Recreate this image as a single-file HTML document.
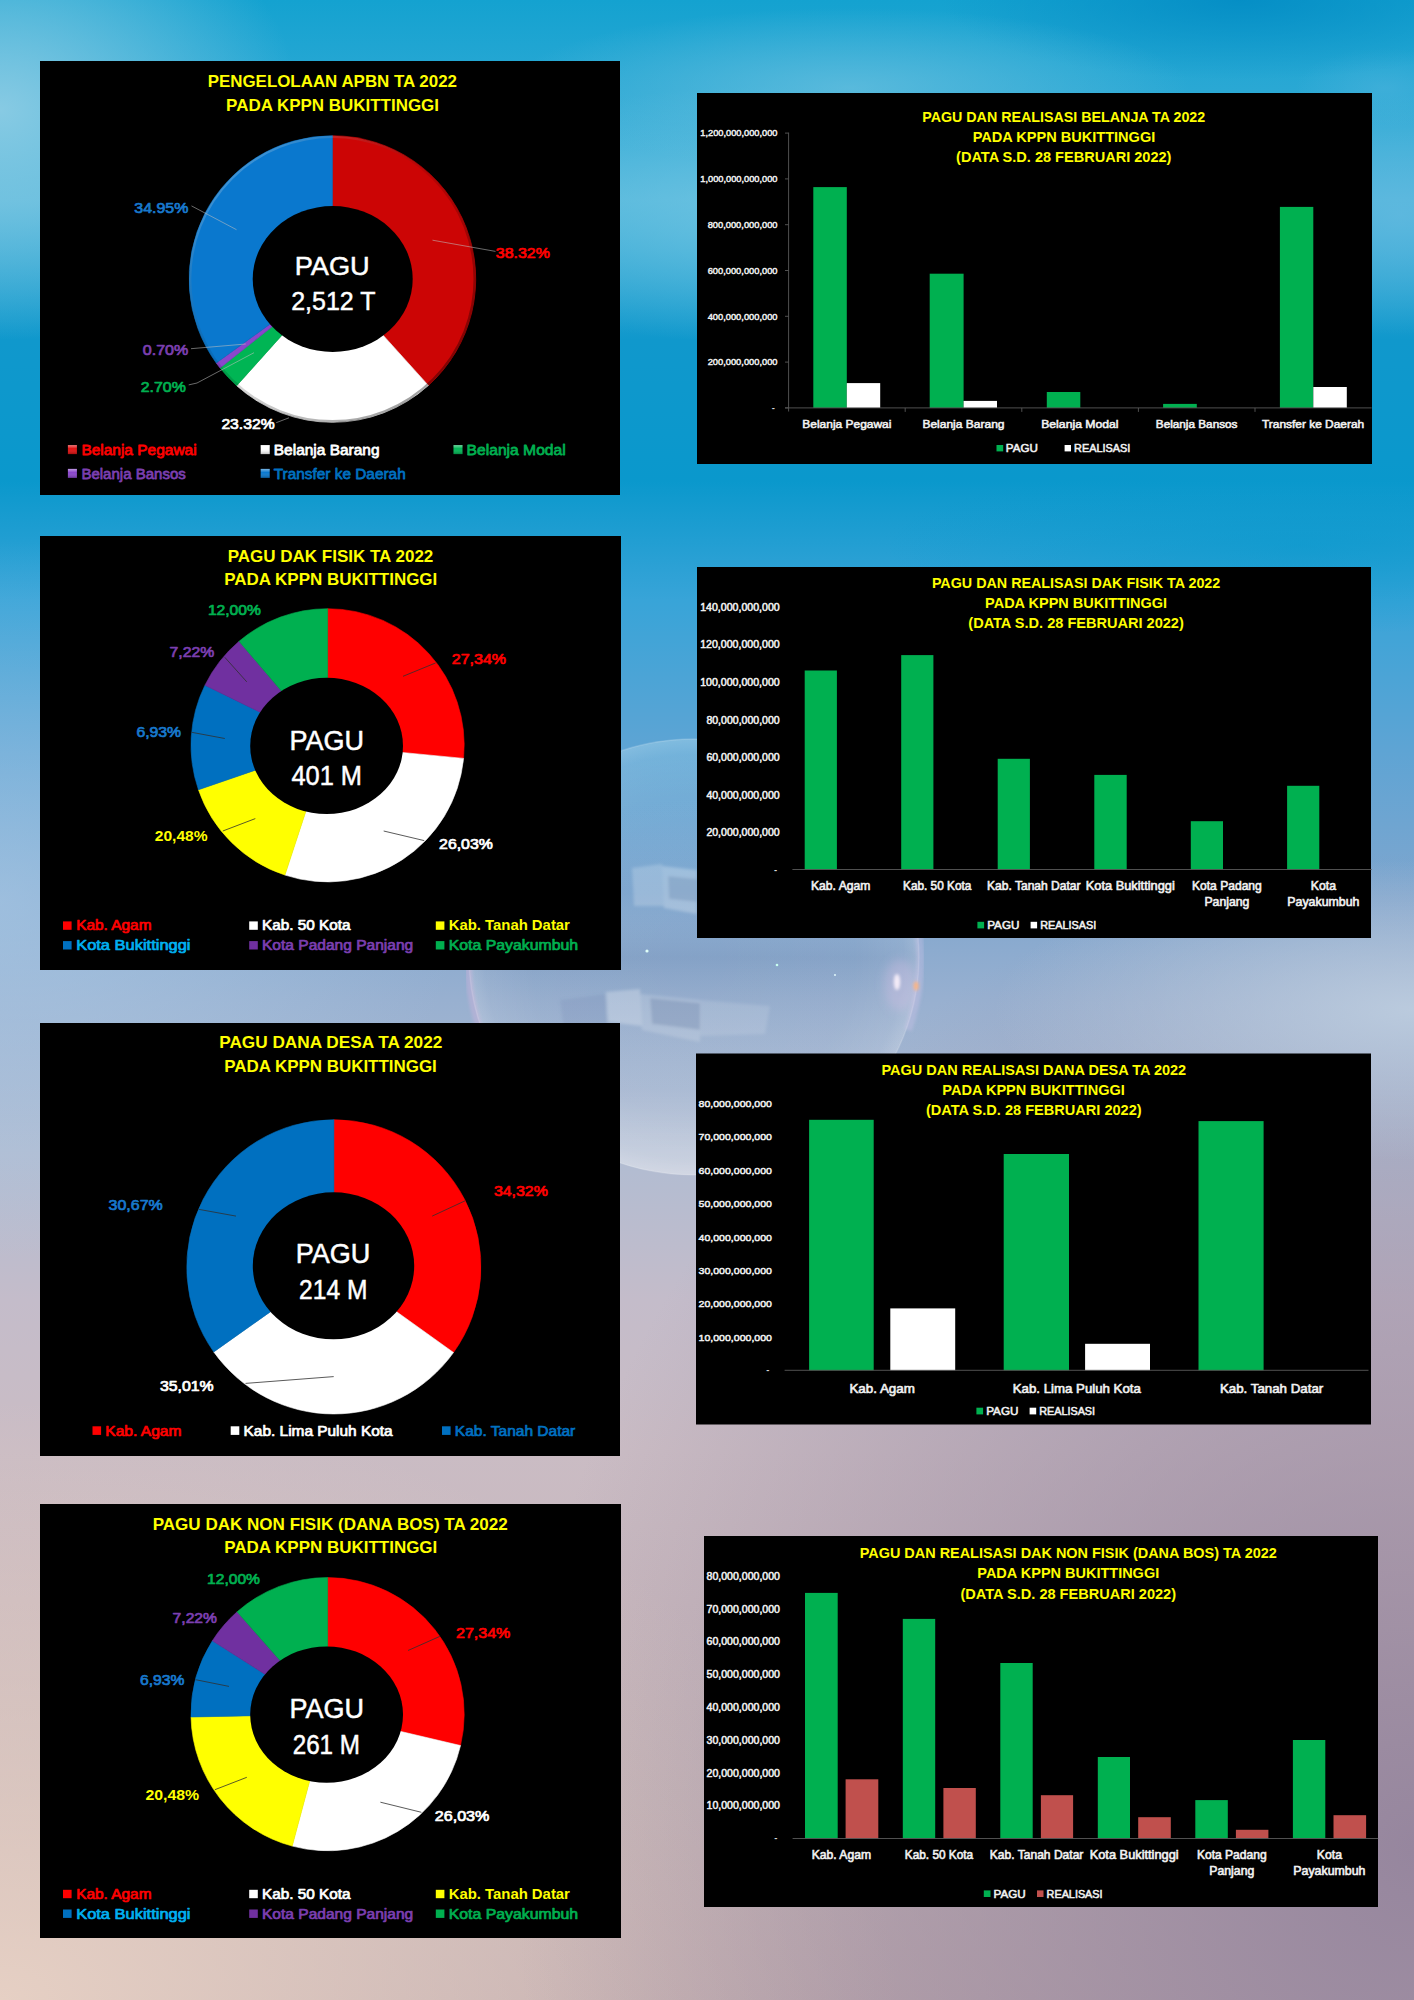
<!DOCTYPE html>
<html lang="id">
<head>
<meta charset="utf-8">
<title>Pengelolaan APBN TA 2022 pada KPPN Bukittinggi</title>
<style>
html,body{margin:0;padding:0;background:#9fb4cf;}
body{width:1414px;height:2000px;overflow:hidden;position:relative;font-family:"Liberation Sans",sans-serif;}
#bg{position:absolute;left:0;top:0;width:1414px;height:2000px;background:
 radial-gradient(ellipse 300px 230px at 0px 110px, rgba(140,204,228,0.95), rgba(140,204,228,0) 100%),
 radial-gradient(ellipse 340px 80px at 850px 88px, rgba(100,190,222,0.80), rgba(100,190,222,0) 100%),
 radial-gradient(ellipse 300px 80px at 1240px 0px, rgba(0,136,194,0.75), rgba(0,136,194,0) 100%),
 radial-gradient(ellipse 90px 40px at 1385px 88px, rgba(90,184,224,0.40), rgba(90,184,224,0) 100%),
 radial-gradient(ellipse 420px 130px at 800px 215px, rgba(120,200,228,0.75), rgba(120,200,228,0) 100%),
 radial-gradient(ellipse 200px 120px at 1400px 215px, rgba(100,186,224,0.75), rgba(100,186,224,0) 100%),
 radial-gradient(ellipse 420px 90px at 1300px 545px, rgba(6,152,204,0.55), rgba(6,152,204,0) 100%),
 radial-gradient(ellipse 460px 360px at 0px 900px, rgba(176,206,232,0.60), rgba(176,206,232,0) 100%),
 radial-gradient(ellipse 420px 150px at 1414px 1010px, rgba(190,206,224,0.9), rgba(190,206,224,0) 100%),
 radial-gradient(ellipse 900px 1000px at 1414px 1850px, rgba(150,134,158,1), rgba(150,134,158,0) 100%),
 radial-gradient(ellipse 900px 600px at 0px 2000px, rgba(230,208,196,1), rgba(230,208,196,0) 100%),
 linear-gradient(180deg, #14A2D0 0px, #2AA8D4 90px, #4CB4DA 200px, #1098CC 340px, #0A98CC 480px, #38A4D8 600px, #5EA4D4 750px, #80A6CE 900px, #98B0D0 1000px, #B0BCD2 1150px, #C4BCCA 1300px, #CABCC4 1450px, #C8B8BE 1600px, #C2B2B6 1800px, #BEAAAE 2000px);
}
svg{position:absolute;left:0;top:0;}
svg text{font-family:"Liberation Sans",sans-serif;}
</style>
</head>
<body>
<div id="bg"></div>
<svg width="1414" height="2000" viewBox="0 0 1414 2000">
<defs>
<radialGradient id="bub" cx="50%" cy="50%" r="50%">
<stop offset="0" stop-color="#fff" stop-opacity="0"/><stop offset="0.72" stop-color="#fff" stop-opacity="0.02"/>
<stop offset="0.93" stop-color="#fff" stop-opacity="0.09"/><stop offset="1" stop-color="#fff" stop-opacity="0.20"/>
</radialGradient>
<linearGradient id="bubv" x1="0" y1="0" x2="0" y2="1">
<stop offset="0" stop-color="#7fd0e8" stop-opacity="0.16"/><stop offset="0.35" stop-color="#fff" stop-opacity="0"/>
<stop offset="0.5" stop-color="#304878" stop-opacity="0.10"/><stop offset="0.8" stop-color="#fff" stop-opacity="0.04"/><stop offset="1" stop-color="#fff" stop-opacity="0.26"/>
</linearGradient>
<filter id="bl2" x="-20%" y="-20%" width="140%" height="140%"><feGaussianBlur stdDeviation="1.6"/></filter>
<filter id="bl5" x="-30%" y="-30%" width="160%" height="160%"><feGaussianBlur stdDeviation="5"/></filter>
</defs>
<g id="bubble">
<ellipse cx="694" cy="957" rx="225" ry="218" fill="url(#bubv)"/>
<ellipse cx="694" cy="957" rx="225" ry="218" fill="url(#bub)" stroke="#fff" stroke-opacity="0.16" stroke-width="1.4"/>
<path d="M480,1030 A225,218 0 0 1 476,905" fill="none" stroke="#e6b4e0" stroke-opacity="0.30" stroke-width="7" filter="url(#bl2)"/>
<path d="M905,880 A225,218 0 0 1 908,1030" fill="none" stroke="#d8c8f0" stroke-opacity="0.30" stroke-width="8" filter="url(#bl2)"/>
<g filter="url(#bl2)">
<polygon points="606,992 640,989 642,1026 608,1022" fill="#fff" fill-opacity="0.26"/>
<polygon points="640,994 700,1000 700,1042 642,1030" fill="#fff" fill-opacity="0.16"/>
<polygon points="650,998 700,1003 700,1030 652,1024" fill="#46608c" fill-opacity="0.22"/>
<polygon points="700,1000 770,1006 765,1034 700,1036" fill="#fff" fill-opacity="0.12"/>
<polygon points="560,1000 606,994 608,1040 566,1048" fill="#5a74a0" fill-opacity="0.14"/>
<polygon points="632,868 662,864 664,906 634,906" fill="#fff" fill-opacity="0.20"/>
<polygon points="662,866 697,870 697,914 664,908" fill="#fff" fill-opacity="0.26"/>
<polygon points="668,876 697,879 697,902 669,899" fill="#4a6896" fill-opacity="0.22"/>
<ellipse cx="897" cy="982" rx="3.2" ry="8" fill="#fff" fill-opacity="0.9"/>
<ellipse cx="916" cy="986" rx="2.6" ry="4.5" fill="#ffb070" fill-opacity="0.9"/>
</g>
<ellipse cx="900" cy="985" rx="16" ry="26" fill="#f0c8f0" fill-opacity="0.25" filter="url(#bl5)"/>
<circle cx="647" cy="951" r="1.6" fill="#dffff8"/><circle cx="777" cy="965" r="1.3" fill="#c8fff0"/><circle cx="835" cy="975" r="0.9" fill="#e8ffff"/>
</g>
<rect x="40.0" y="61.0" width="580.0" height="434.0" fill="#000"/>
<rect x="697.0" y="93.0" width="675.0" height="371.0" fill="#000"/>
<rect x="40.0" y="536.0" width="581.0" height="434.0" fill="#000"/>
<rect x="697.0" y="567.0" width="674.0" height="371.0" fill="#000"/>
<rect x="40.0" y="1023.0" width="580.0" height="433.0" fill="#000"/>
<rect x="696.0" y="1053.5" width="675.0" height="371.0" fill="#000"/>
<rect x="40.0" y="1504.0" width="581.0" height="434.0" fill="#000"/>
<rect x="704.0" y="1536.0" width="674.0" height="371.0" fill="#000"/>
<!-- pie 1 -->
<path d="M332.4,279.0 L332.40,135.70 A143.3,143.3 0 0 1 428.38,385.41 Z" fill="#CC0505" stroke="#CC0505" stroke-width="0.6"/>
<path d="M332.4,279.0 L428.38,385.41 A143.3,143.3 0 0 1 236.70,385.66 Z" fill="#FFFFFF" stroke="#FFFFFF" stroke-width="0.6"/>
<path d="M332.4,279.0 L236.70,385.66 A143.3,143.3 0 0 1 220.07,367.97 Z" fill="#00B554" stroke="#00B554" stroke-width="0.6"/>
<path d="M332.4,279.0 L220.07,367.97 A143.3,143.3 0 0 1 216.26,362.95 Z" fill="#8A46CC" stroke="#8A46CC" stroke-width="0.6"/>
<path d="M332.4,279.0 L216.26,362.95 A143.3,143.3 0 0 1 332.40,135.70 Z" fill="#0A78CE" stroke="#0A78CE" stroke-width="0.6"/>
<ellipse cx="332.7" cy="279.0" rx="80.0" ry="73.0" fill="#000"/>
<defs><linearGradient id="mk" x1="0" y1="0" x2="0" y2="1"><stop offset="0" stop-color="#fff" stop-opacity="0.45"/><stop offset="0.4" stop-color="#fff" stop-opacity="0"/><stop offset="1" stop-color="#000" stop-opacity="0.25"/></linearGradient></defs>
<defs><linearGradient id="bev" x1="0.15" y1="0.1" x2="0.85" y2="0.9"><stop offset="0" stop-color="#fff" stop-opacity="0.22"/><stop offset="0.45" stop-color="#000" stop-opacity="0.10"/><stop offset="1" stop-color="#000" stop-opacity="0.38"/></linearGradient></defs>
<circle cx="332.4" cy="279.0" r="142.2" fill="none" stroke="url(#bev)" stroke-width="2.2"/>
<text x="207.7" y="87.0" font-size="16.34" font-weight="700" fill="#FFFF00" textLength="249.3" lengthAdjust="spacingAndGlyphs">PENGELOLAAN APBN TA 2022</text>
<text x="226.1" y="110.8" font-size="16.34" font-weight="700" fill="#FFFF00" textLength="212.9" lengthAdjust="spacingAndGlyphs">PADA KPPN BUKITTINGGI</text>
<text x="294.7" y="274.5" font-size="26.12" stroke="#FFFFFF" stroke-width="0.47" fill="#FFFFFF" textLength="75.0" lengthAdjust="spacingAndGlyphs">PAGU</text>
<text x="291.2" y="310.2" font-size="26.12" stroke="#FFFFFF" stroke-width="0.47" fill="#FFFFFF" textLength="84.3" lengthAdjust="spacingAndGlyphs">2,512 T</text>
<text x="134.3" y="212.5" font-size="14.80" stroke="#1878CC" stroke-width="0.74" stroke-linejoin="round" fill="#1878CC" textLength="54.0" lengthAdjust="spacingAndGlyphs">34.95%</text>
<text x="495.8" y="257.5" font-size="14.80" stroke="#FF0000" stroke-width="0.74" stroke-linejoin="round" fill="#FF0000" textLength="54.0" lengthAdjust="spacingAndGlyphs">38.32%</text>
<text x="142.8" y="355.0" font-size="14.80" stroke="#7B3FB0" stroke-width="0.74" stroke-linejoin="round" fill="#7B3FB0" textLength="45.5" lengthAdjust="spacingAndGlyphs">0.70%</text>
<text x="140.8" y="391.5" font-size="14.80" stroke="#00B050" stroke-width="0.74" stroke-linejoin="round" fill="#00B050" textLength="45.0" lengthAdjust="spacingAndGlyphs">2.70%</text>
<text x="221.4" y="428.7" font-size="14.80" stroke="#FFFFFF" stroke-width="0.74" stroke-linejoin="round" fill="#FFFFFF" textLength="53.2" lengthAdjust="spacingAndGlyphs">23.32%</text>
<polyline points="191.5,205.9 236.5,229.7" fill="none" stroke="#BFBFBF" stroke-width="0.7" stroke-opacity="0.8"/>
<polyline points="432.5,240.2 495.5,251.4" fill="none" stroke="#BFBFBF" stroke-width="0.7" stroke-opacity="0.8"/>
<polyline points="191.0,348.7 245.8,344.0" fill="none" stroke="#BFBFBF" stroke-width="0.7" stroke-opacity="0.8"/>
<polyline points="188.7,384.9 197.0,383.0 254.0,352.7" fill="none" stroke="#BFBFBF" stroke-width="0.7" stroke-opacity="0.8"/>
<polyline points="276.2,422.7 289.0,417.8" fill="none" stroke="#BFBFBF" stroke-width="0.7" stroke-opacity="0.8"/>
<rect x="67.9" y="445.1" width="9.0" height="9.0" fill="#E01010"/>
<rect x="67.9" y="445.1" width="9.0" height="9.0" fill="url(#mk)"/>
<text x="81.4" y="454.6" font-size="15.36" stroke="#FF0000" stroke-width="0.77" stroke-linejoin="round" fill="#FF0000" textLength="115.2" lengthAdjust="spacingAndGlyphs">Belanja Pegawai</text>
<rect x="260.7" y="445.1" width="9.0" height="9.0" fill="#FFFFFF"/>
<rect x="260.7" y="445.1" width="9.0" height="9.0" fill="url(#mk)"/>
<text x="273.8" y="454.6" font-size="15.36" stroke="#FFFFFF" stroke-width="0.77" stroke-linejoin="round" fill="#FFFFFF" textLength="105.7" lengthAdjust="spacingAndGlyphs">Belanja Barang</text>
<rect x="453.5" y="445.1" width="9.0" height="9.0" fill="#00B554"/>
<rect x="453.5" y="445.1" width="9.0" height="9.0" fill="url(#mk)"/>
<text x="466.6" y="454.6" font-size="15.36" stroke="#00B050" stroke-width="0.77" stroke-linejoin="round" fill="#00B050" textLength="99.1" lengthAdjust="spacingAndGlyphs">Belanja Modal</text>
<rect x="67.9" y="468.9" width="9.0" height="9.0" fill="#8A46CC"/>
<rect x="67.9" y="468.9" width="9.0" height="9.0" fill="url(#mk)"/>
<text x="81.4" y="478.7" font-size="15.36" stroke="#7B3FB0" stroke-width="0.77" stroke-linejoin="round" fill="#7B3FB0" textLength="104.5" lengthAdjust="spacingAndGlyphs">Belanja Bansos</text>
<rect x="260.7" y="468.9" width="9.0" height="9.0" fill="#0A78CE"/>
<rect x="260.7" y="468.9" width="9.0" height="9.0" fill="url(#mk)"/>
<text x="273.8" y="478.7" font-size="15.36" stroke="#0070C0" stroke-width="0.77" stroke-linejoin="round" fill="#0070C0" textLength="131.9" lengthAdjust="spacingAndGlyphs">Transfer ke Daerah</text>
<!-- pie 2 -->
<path d="M327.6,745.3 L327.60,608.70 A136.6,136.6 0 0 1 463.57,758.39 Z" fill="#FF0000" stroke="#FF0000" stroke-width="0.6"/>
<path d="M327.6,745.3 L463.57,758.39 A136.6,136.6 0 0 1 284.94,875.07 Z" fill="#FFFFFF" stroke="#FFFFFF" stroke-width="0.6"/>
<path d="M327.6,745.3 L284.94,875.07 A136.6,136.6 0 0 1 198.44,789.77 Z" fill="#FFFF00" stroke="#FFFF00" stroke-width="0.6"/>
<path d="M327.6,745.3 L198.44,789.77 A136.6,136.6 0 0 1 204.93,685.20 Z" fill="#0070C0" stroke="#0070C0" stroke-width="0.6"/>
<path d="M327.6,745.3 L204.93,685.20 A136.6,136.6 0 0 1 239.07,641.27 Z" fill="#7030A0" stroke="#7030A0" stroke-width="0.6"/>
<path d="M327.6,745.3 L239.07,641.27 A136.6,136.6 0 0 1 327.60,608.70 Z" fill="#00B050" stroke="#00B050" stroke-width="0.6"/>
<ellipse cx="326.6" cy="745.9" rx="76.4" ry="68.2" fill="#000"/>
<text x="227.7" y="561.5" font-size="16.34" font-weight="700" fill="#FFFF00" textLength="205.6" lengthAdjust="spacingAndGlyphs">PAGU DAK FISIK TA 2022</text>
<text x="224.2" y="585.0" font-size="16.34" font-weight="700" fill="#FFFF00" textLength="213.1" lengthAdjust="spacingAndGlyphs">PADA KPPN BUKITTINGGI</text>
<text x="207.9" y="614.9" font-size="14.39" stroke="#00B050" stroke-width="0.72" stroke-linejoin="round" fill="#00B050" textLength="52.9" lengthAdjust="spacingAndGlyphs">12,00%</text>
<text x="169.5" y="657.3" font-size="14.39" stroke="#7B3FB0" stroke-width="0.72" stroke-linejoin="round" fill="#7B3FB0" textLength="44.7" lengthAdjust="spacingAndGlyphs">7,22%</text>
<text x="451.8" y="664.1" font-size="14.39" stroke="#FF0000" stroke-width="0.72" stroke-linejoin="round" fill="#FF0000" textLength="54.3" lengthAdjust="spacingAndGlyphs">27,34%</text>
<text x="136.4" y="736.5" font-size="14.39" stroke="#1878CC" stroke-width="0.72" stroke-linejoin="round" fill="#1878CC" textLength="44.7" lengthAdjust="spacingAndGlyphs">6,93%</text>
<text x="154.8" y="841.2" font-size="14.39" font-weight="700" fill="#FFFF00" textLength="52.8" lengthAdjust="spacingAndGlyphs">20,48%</text>
<text x="439.1" y="849.1" font-size="14.39" stroke="#FFFFFF" stroke-width="0.72" stroke-linejoin="round" fill="#FFFFFF" textLength="53.7" lengthAdjust="spacingAndGlyphs">26,03%</text>
<line x1="403.0" y1="676.3" x2="435.5" y2="663.0" stroke="#303030" stroke-width="0.8"/>
<line x1="224.8" y1="657.3" x2="246.8" y2="681.9" stroke="#303030" stroke-width="0.8"/>
<line x1="191.7" y1="732.3" x2="224.8" y2="738.5" stroke="#303030" stroke-width="0.8"/>
<line x1="222.8" y1="831.0" x2="255.3" y2="818.6" stroke="#303030" stroke-width="0.8"/>
<line x1="383.7" y1="831.0" x2="424.2" y2="840.6" stroke="#303030" stroke-width="0.8"/>
<text x="289.4" y="749.8" font-size="26.96" stroke="#FFFFFF" stroke-width="0.49" fill="#FFFFFF" textLength="74.5" lengthAdjust="spacingAndGlyphs">PAGU</text>
<text x="291.4" y="785.2" font-size="26.96" stroke="#FFFFFF" stroke-width="0.49" fill="#FFFFFF" textLength="70.6" lengthAdjust="spacingAndGlyphs">401 M</text>
<rect x="63.0" y="921.4" width="8.6" height="8.4" fill="#FF0000"/>
<text x="76.2" y="930.4" font-size="14.80" stroke="#FF0000" stroke-width="0.74" stroke-linejoin="round" fill="#FF0000" textLength="75.3" lengthAdjust="spacingAndGlyphs">Kab. Agam</text>
<rect x="249.2" y="921.4" width="8.6" height="8.4" fill="#FFFFFF"/>
<text x="262.0" y="930.4" font-size="14.80" stroke="#FFFFFF" stroke-width="0.74" stroke-linejoin="round" fill="#FFFFFF" textLength="88.5" lengthAdjust="spacingAndGlyphs">Kab. 50 Kota</text>
<rect x="435.8" y="921.4" width="8.6" height="8.4" fill="#FFFF00"/>
<text x="448.7" y="930.4" font-size="14.80" font-weight="700" fill="#FFFF00" textLength="121.2" lengthAdjust="spacingAndGlyphs">Kab. Tanah Datar</text>
<rect x="63.0" y="941.1" width="8.6" height="8.4" fill="#0070C0"/>
<text x="76.2" y="950.1" font-size="14.80" stroke="#00B0F0" stroke-width="0.74" stroke-linejoin="round" fill="#00B0F0" textLength="114.3" lengthAdjust="spacingAndGlyphs">Kota Bukittinggi</text>
<rect x="249.2" y="941.1" width="8.6" height="8.4" fill="#7030A0"/>
<text x="262.0" y="950.1" font-size="14.80" stroke="#7B3FB0" stroke-width="0.74" stroke-linejoin="round" fill="#7B3FB0" textLength="151.2" lengthAdjust="spacingAndGlyphs">Kota Padang Panjang</text>
<rect x="435.8" y="941.1" width="8.6" height="8.4" fill="#00B050"/>
<text x="448.7" y="950.1" font-size="14.80" stroke="#00B050" stroke-width="0.74" stroke-linejoin="round" fill="#00B050" textLength="129.4" lengthAdjust="spacingAndGlyphs">Kota Payakumbuh</text>
<!-- pie 4 -->
<path d="M327.6,1714.2 L327.60,1577.55 A136.6,136.6 0 0 1 460.54,1745.57 Z" fill="#FF0000" stroke="#FF0000" stroke-width="0.6"/>
<path d="M327.6,1714.2 L460.54,1745.57 A136.6,136.6 0 0 1 292.25,1846.10 Z" fill="#FFFFFF" stroke="#FFFFFF" stroke-width="0.6"/>
<path d="M327.6,1714.2 L292.25,1846.10 A136.6,136.6 0 0 1 191.03,1717.01 Z" fill="#FFFF00" stroke="#FFFF00" stroke-width="0.6"/>
<path d="M327.6,1714.2 L191.03,1717.01 A136.6,136.6 0 0 1 212.39,1640.75 Z" fill="#0070C0" stroke="#0070C0" stroke-width="0.6"/>
<path d="M327.6,1714.2 L212.39,1640.75 A136.6,136.6 0 0 1 237.09,1611.84 Z" fill="#7030A0" stroke="#7030A0" stroke-width="0.6"/>
<path d="M327.6,1714.2 L237.09,1611.84 A136.6,136.6 0 0 1 327.60,1577.55 Z" fill="#00B050" stroke="#00B050" stroke-width="0.6"/>
<ellipse cx="326.6" cy="1714.6" rx="76.4" ry="68.2" fill="#000"/>
<text x="152.7" y="1529.9" font-size="16.34" font-weight="700" fill="#FFFF00" textLength="355.1" lengthAdjust="spacingAndGlyphs">PAGU DAK NON FISIK (DANA BOS) TA 2022</text>
<text x="224.2" y="1553.4" font-size="16.34" font-weight="700" fill="#FFFF00" textLength="213.1" lengthAdjust="spacingAndGlyphs">PADA KPPN BUKITTINGGI</text>
<text x="207.1" y="1584.0" font-size="14.39" stroke="#00B050" stroke-width="0.72" stroke-linejoin="round" fill="#00B050" textLength="52.9" lengthAdjust="spacingAndGlyphs">12,00%</text>
<text x="172.6" y="1623.1" font-size="14.39" stroke="#7B3FB0" stroke-width="0.72" stroke-linejoin="round" fill="#7B3FB0" textLength="44.4" lengthAdjust="spacingAndGlyphs">7,22%</text>
<text x="456.0" y="1637.8" font-size="14.39" stroke="#FF0000" stroke-width="0.72" stroke-linejoin="round" fill="#FF0000" textLength="54.3" lengthAdjust="spacingAndGlyphs">27,34%</text>
<text x="140.0" y="1685.0" font-size="14.39" stroke="#1878CC" stroke-width="0.72" stroke-linejoin="round" fill="#1878CC" textLength="44.4" lengthAdjust="spacingAndGlyphs">6,93%</text>
<text x="145.4" y="1800.2" font-size="14.39" font-weight="700" fill="#FFFF00" textLength="53.8" lengthAdjust="spacingAndGlyphs">20,48%</text>
<text x="434.8" y="1820.5" font-size="14.39" stroke="#FFFFFF" stroke-width="0.72" stroke-linejoin="round" fill="#FFFFFF" textLength="54.6" lengthAdjust="spacingAndGlyphs">26,03%</text>
<line x1="408.0" y1="1650.5" x2="439.8" y2="1636.4" stroke="#303030" stroke-width="0.8"/>
<line x1="195.6" y1="1679.7" x2="229.0" y2="1686.4" stroke="#303030" stroke-width="0.8"/>
<line x1="214.9" y1="1789.7" x2="246.8" y2="1777.3" stroke="#303030" stroke-width="0.8"/>
<line x1="380.4" y1="1802.2" x2="421.4" y2="1812.3" stroke="#303030" stroke-width="0.8"/>
<text x="289.4" y="1718.4" font-size="26.96" stroke="#FFFFFF" stroke-width="0.49" fill="#FFFFFF" textLength="74.5" lengthAdjust="spacingAndGlyphs">PAGU</text>
<text x="292.7" y="1753.8" font-size="26.96" stroke="#FFFFFF" stroke-width="0.49" fill="#FFFFFF" textLength="67.3" lengthAdjust="spacingAndGlyphs">261 M</text>
<rect x="63.0" y="1889.8" width="8.6" height="8.4" fill="#FF0000"/>
<text x="76.2" y="1898.8" font-size="14.80" stroke="#FF0000" stroke-width="0.74" stroke-linejoin="round" fill="#FF0000" textLength="75.3" lengthAdjust="spacingAndGlyphs">Kab. Agam</text>
<rect x="249.2" y="1889.8" width="8.6" height="8.4" fill="#FFFFFF"/>
<text x="262.0" y="1898.8" font-size="14.80" stroke="#FFFFFF" stroke-width="0.74" stroke-linejoin="round" fill="#FFFFFF" textLength="88.5" lengthAdjust="spacingAndGlyphs">Kab. 50 Kota</text>
<rect x="435.8" y="1889.8" width="8.6" height="8.4" fill="#FFFF00"/>
<text x="448.7" y="1898.8" font-size="14.80" font-weight="700" fill="#FFFF00" textLength="121.2" lengthAdjust="spacingAndGlyphs">Kab. Tanah Datar</text>
<rect x="63.0" y="1909.5" width="8.6" height="8.4" fill="#0070C0"/>
<text x="76.2" y="1918.5" font-size="14.80" stroke="#00B0F0" stroke-width="0.74" stroke-linejoin="round" fill="#00B0F0" textLength="114.3" lengthAdjust="spacingAndGlyphs">Kota Bukittinggi</text>
<rect x="249.2" y="1909.5" width="8.6" height="8.4" fill="#7030A0"/>
<text x="262.0" y="1918.5" font-size="14.80" stroke="#7B3FB0" stroke-width="0.74" stroke-linejoin="round" fill="#7B3FB0" textLength="151.2" lengthAdjust="spacingAndGlyphs">Kota Padang Panjang</text>
<rect x="435.8" y="1909.5" width="8.6" height="8.4" fill="#00B050"/>
<text x="448.7" y="1918.5" font-size="14.80" stroke="#00B050" stroke-width="0.74" stroke-linejoin="round" fill="#00B050" textLength="129.4" lengthAdjust="spacingAndGlyphs">Kota Payakumbuh</text>
<!-- pie 3 -->
<path d="M333.9,1266.8 L333.85,1119.70 A147.2,147.2 0 0 1 453.50,1352.51 Z" fill="#FF0000" stroke="#FF0000" stroke-width="0.6"/>
<path d="M333.9,1266.8 L453.50,1352.51 A147.2,147.2 0 0 1 213.76,1351.88 Z" fill="#FFFFFF" stroke="#FFFFFF" stroke-width="0.6"/>
<path d="M333.9,1266.8 L213.76,1351.88 A147.2,147.2 0 0 1 333.85,1119.70 Z" fill="#0070C0" stroke="#0070C0" stroke-width="0.6"/>
<ellipse cx="333.5" cy="1265.8" rx="80.7" ry="73.5" fill="#000"/>
<text x="219.2" y="1047.5" font-size="16.34" font-weight="700" fill="#FFFF00" textLength="223.1" lengthAdjust="spacingAndGlyphs">PAGU DANA DESA TA 2022</text>
<text x="224.2" y="1071.5" font-size="16.34" font-weight="700" fill="#FFFF00" textLength="212.6" lengthAdjust="spacingAndGlyphs">PADA KPPN BUKITTINGGI</text>
<text x="493.9" y="1196.1" font-size="14.39" stroke="#FF0000" stroke-width="0.72" stroke-linejoin="round" fill="#FF0000" textLength="54.0" lengthAdjust="spacingAndGlyphs">34,32%</text>
<text x="108.6" y="1209.6" font-size="14.39" stroke="#1878CC" stroke-width="0.72" stroke-linejoin="round" fill="#1878CC" textLength="54.1" lengthAdjust="spacingAndGlyphs">30,67%</text>
<text x="159.9" y="1391.2" font-size="14.39" stroke="#FFFFFF" stroke-width="0.72" stroke-linejoin="round" fill="#FFFFFF" textLength="53.7" lengthAdjust="spacingAndGlyphs">35,01%</text>
<text x="295.7" y="1262.9" font-size="26.96" stroke="#FFFFFF" stroke-width="0.49" fill="#FFFFFF" textLength="74.7" lengthAdjust="spacingAndGlyphs">PAGU</text>
<text x="299.1" y="1298.6" font-size="26.96" stroke="#FFFFFF" stroke-width="0.49" fill="#FFFFFF" textLength="68.3" lengthAdjust="spacingAndGlyphs">214 M</text>
<line x1="432.2" y1="1216.1" x2="465.1" y2="1200.8" stroke="#303030" stroke-width="0.8"/>
<line x1="198.6" y1="1209.3" x2="236.0" y2="1216.1" stroke="#303030" stroke-width="0.8"/>
<line x1="245.5" y1="1383.4" x2="333.7" y2="1376.6" stroke="#303030" stroke-width="0.8"/>
<rect x="92.5" y="1426.3" width="8.6" height="8.6" fill="#FF0000"/>
<text x="105.3" y="1435.7" font-size="14.80" stroke="#FF0000" stroke-width="0.74" stroke-linejoin="round" fill="#FF0000" textLength="76.2" lengthAdjust="spacingAndGlyphs">Kab. Agam</text>
<rect x="230.7" y="1426.3" width="8.6" height="8.6" fill="#FFFFFF"/>
<text x="243.6" y="1435.7" font-size="14.80" stroke="#FFFFFF" stroke-width="0.74" stroke-linejoin="round" fill="#FFFFFF" textLength="149.1" lengthAdjust="spacingAndGlyphs">Kab. Lima Puluh Kota</text>
<rect x="442.0" y="1426.3" width="8.6" height="8.6" fill="#0070C0"/>
<text x="454.8" y="1435.7" font-size="14.80" stroke="#0070C0" stroke-width="0.74" stroke-linejoin="round" fill="#0070C0" textLength="120.5" lengthAdjust="spacingAndGlyphs">Kab. Tanah Datar</text>
<!-- bar 1 -->
<rect x="813.3" y="187.1" width="33.5" height="220.8" fill="#00B050"/>
<rect x="846.8" y="383.1" width="33.4" height="24.8" fill="#FFFFFF"/>
<rect x="929.7" y="273.7" width="33.9" height="134.2" fill="#00B050"/>
<rect x="963.6" y="400.9" width="33.4" height="7.0" fill="#FFFFFF"/>
<rect x="1046.8" y="392.0" width="33.5" height="15.9" fill="#00B050"/>
<rect x="1163.1" y="403.9" width="33.7" height="4.0" fill="#00B050"/>
<rect x="1279.9" y="206.9" width="33.4" height="201.0" fill="#00B050"/>
<rect x="1313.3" y="387.0" width="33.5" height="20.9" fill="#FFFFFF"/>
<line x1="788.6" y1="132.6" x2="788.6" y2="411.5" stroke="#595959" stroke-width="0.9"/>
<line x1="785.0" y1="407.9" x2="1371.6" y2="407.9" stroke="#595959" stroke-width="0.9"/>
<line x1="785.0" y1="133.1" x2="788.6" y2="133.1" stroke="#595959" stroke-width="0.9"/>
<line x1="785.0" y1="178.9" x2="788.6" y2="178.9" stroke="#595959" stroke-width="0.9"/>
<line x1="785.0" y1="224.7" x2="788.6" y2="224.7" stroke="#595959" stroke-width="0.9"/>
<line x1="785.0" y1="270.5" x2="788.6" y2="270.5" stroke="#595959" stroke-width="0.9"/>
<line x1="785.0" y1="316.3" x2="788.6" y2="316.3" stroke="#595959" stroke-width="0.9"/>
<line x1="785.0" y1="362.1" x2="788.6" y2="362.1" stroke="#595959" stroke-width="0.9"/>
<line x1="785.0" y1="407.9" x2="788.6" y2="407.9" stroke="#595959" stroke-width="0.9"/>
<line x1="905.2" y1="407.9" x2="905.2" y2="411.9" stroke="#595959" stroke-width="0.9"/>
<line x1="1021.8" y1="407.9" x2="1021.8" y2="411.9" stroke="#595959" stroke-width="0.9"/>
<line x1="1138.4" y1="407.9" x2="1138.4" y2="411.9" stroke="#595959" stroke-width="0.9"/>
<line x1="1255.0" y1="407.9" x2="1255.0" y2="411.9" stroke="#595959" stroke-width="0.9"/>
<text x="700.3" y="136.3" font-size="8.94" stroke="#F2F2F2" stroke-width="0.43" fill="#F2F2F2" textLength="77.2" lengthAdjust="spacingAndGlyphs">1,200,000,000,000</text>
<text x="700.3" y="182.1" font-size="8.94" stroke="#F2F2F2" stroke-width="0.43" fill="#F2F2F2" textLength="77.2" lengthAdjust="spacingAndGlyphs">1,000,000,000,000</text>
<text x="707.7" y="227.9" font-size="8.94" stroke="#F2F2F2" stroke-width="0.43" fill="#F2F2F2" textLength="69.8" lengthAdjust="spacingAndGlyphs">800,000,000,000</text>
<text x="707.7" y="273.7" font-size="8.94" stroke="#F2F2F2" stroke-width="0.43" fill="#F2F2F2" textLength="69.8" lengthAdjust="spacingAndGlyphs">600,000,000,000</text>
<text x="707.7" y="319.5" font-size="8.94" stroke="#F2F2F2" stroke-width="0.43" fill="#F2F2F2" textLength="69.8" lengthAdjust="spacingAndGlyphs">400,000,000,000</text>
<text x="707.7" y="365.3" font-size="8.94" stroke="#F2F2F2" stroke-width="0.43" fill="#F2F2F2" textLength="69.8" lengthAdjust="spacingAndGlyphs">200,000,000,000</text>
<text x="771.8" y="410.5" font-size="9.5" font-weight="700" fill="#D9D9D9">-</text>
<text x="802.3" y="427.9" font-size="11.59" stroke="#F2F2F2" stroke-width="0.56" fill="#F2F2F2" textLength="89.1" lengthAdjust="spacingAndGlyphs">Belanja Pegawai</text>
<text x="922.4" y="427.9" font-size="11.59" stroke="#F2F2F2" stroke-width="0.56" fill="#F2F2F2" textLength="82.1" lengthAdjust="spacingAndGlyphs">Belanja Barang</text>
<text x="1041.2" y="427.9" font-size="11.59" stroke="#F2F2F2" stroke-width="0.56" fill="#F2F2F2" textLength="77.4" lengthAdjust="spacingAndGlyphs">Belanja Modal</text>
<text x="1155.8" y="427.9" font-size="11.59" stroke="#F2F2F2" stroke-width="0.56" fill="#F2F2F2" textLength="81.7" lengthAdjust="spacingAndGlyphs">Belanja Bansos</text>
<text x="1262.0" y="427.9" font-size="11.59" stroke="#F2F2F2" stroke-width="0.56" fill="#F2F2F2" textLength="102.2" lengthAdjust="spacingAndGlyphs">Transfer ke Daerah</text>
<text x="922.2" y="121.5" font-size="14.53" font-weight="700" fill="#FFFF00" textLength="283.0" lengthAdjust="spacingAndGlyphs">PAGU DAN REALISASI BELANJA TA 2022</text>
<text x="972.7" y="141.8" font-size="14.53" font-weight="700" fill="#FFFF00" textLength="182.6" lengthAdjust="spacingAndGlyphs">PADA KPPN BUKITTINGGI</text>
<text x="956.1" y="162.3" font-size="14.53" font-weight="700" fill="#FFFF00" textLength="215.3" lengthAdjust="spacingAndGlyphs">(DATA S.D. 28 FEBRUARI 2022)</text>
<rect x="996.5" y="445.0" width="6.7" height="6.4" fill="#00B050"/>
<text x="1005.8" y="451.9" font-size="11.45" stroke="#F2F2F2" stroke-width="0.55" fill="#F2F2F2" textLength="32.0" lengthAdjust="spacingAndGlyphs">PAGU</text>
<rect x="1064.6" y="445.0" width="6.4" height="6.4" fill="#FFFFFF"/>
<text x="1074.1" y="451.9" font-size="11.45" stroke="#F2F2F2" stroke-width="0.55" fill="#F2F2F2" textLength="56.1" lengthAdjust="spacingAndGlyphs">REALISASI</text>
<!-- bar 2 -->
<rect x="804.7" y="670.5" width="32.2" height="199.0" fill="#00B050"/>
<rect x="901.2" y="655.1" width="32.2" height="214.4" fill="#00B050"/>
<rect x="997.7" y="758.8" width="32.2" height="110.7" fill="#00B050"/>
<rect x="1094.3" y="774.9" width="32.4" height="94.6" fill="#00B050"/>
<rect x="1190.8" y="821.2" width="32.2" height="48.3" fill="#00B050"/>
<rect x="1287.1" y="785.8" width="32.2" height="83.7" fill="#00B050"/>
<line x1="792.4" y1="869.5" x2="1371.7" y2="869.5" stroke="#595959" stroke-width="0.9"/>
<text x="700.2" y="610.8" font-size="10.34" stroke="#F2F2F2" stroke-width="0.50" fill="#F2F2F2" textLength="79.5" lengthAdjust="spacingAndGlyphs">140,000,000,000</text>
<text x="700.2" y="648.4" font-size="10.34" stroke="#F2F2F2" stroke-width="0.50" fill="#F2F2F2" textLength="79.5" lengthAdjust="spacingAndGlyphs">120,000,000,000</text>
<text x="700.2" y="686.0" font-size="10.34" stroke="#F2F2F2" stroke-width="0.50" fill="#F2F2F2" textLength="79.5" lengthAdjust="spacingAndGlyphs">100,000,000,000</text>
<text x="706.4" y="723.6" font-size="10.34" stroke="#F2F2F2" stroke-width="0.50" fill="#F2F2F2" textLength="73.3" lengthAdjust="spacingAndGlyphs">80,000,000,000</text>
<text x="706.4" y="761.2" font-size="10.34" stroke="#F2F2F2" stroke-width="0.50" fill="#F2F2F2" textLength="73.3" lengthAdjust="spacingAndGlyphs">60,000,000,000</text>
<text x="706.4" y="798.8" font-size="10.34" stroke="#F2F2F2" stroke-width="0.50" fill="#F2F2F2" textLength="73.3" lengthAdjust="spacingAndGlyphs">40,000,000,000</text>
<text x="706.4" y="836.4" font-size="10.34" stroke="#F2F2F2" stroke-width="0.50" fill="#F2F2F2" textLength="73.3" lengthAdjust="spacingAndGlyphs">20,000,000,000</text>
<text x="774.0" y="872.8" font-size="9.5" font-weight="700" fill="#D9D9D9">-</text>
<text x="811.0" y="890.0" font-size="12.01" stroke="#F2F2F2" stroke-width="0.58" fill="#F2F2F2" textLength="59.4" lengthAdjust="spacingAndGlyphs">Kab. Agam</text>
<text x="903.0" y="890.0" font-size="12.01" stroke="#F2F2F2" stroke-width="0.58" fill="#F2F2F2" textLength="68.4" lengthAdjust="spacingAndGlyphs">Kab. 50 Kota</text>
<text x="987.0" y="890.0" font-size="12.01" stroke="#F2F2F2" stroke-width="0.58" fill="#F2F2F2" textLength="93.6" lengthAdjust="spacingAndGlyphs">Kab. Tanah Datar</text>
<text x="1085.8" y="890.0" font-size="12.01" stroke="#F2F2F2" stroke-width="0.58" fill="#F2F2F2" textLength="89.0" lengthAdjust="spacingAndGlyphs">Kota Bukittinggi</text>
<text x="1192.0" y="890.0" font-size="12.01" stroke="#F2F2F2" stroke-width="0.58" fill="#F2F2F2" textLength="69.8" lengthAdjust="spacingAndGlyphs">Kota Padang</text>
<text x="1204.4" y="905.5" font-size="12.01" stroke="#F2F2F2" stroke-width="0.58" fill="#F2F2F2" textLength="45.0" lengthAdjust="spacingAndGlyphs">Panjang</text>
<text x="1310.8" y="890.0" font-size="12.01" stroke="#F2F2F2" stroke-width="0.58" fill="#F2F2F2" textLength="25.2" lengthAdjust="spacingAndGlyphs">Kota</text>
<text x="1287.3" y="905.5" font-size="12.01" stroke="#F2F2F2" stroke-width="0.58" fill="#F2F2F2" textLength="72.2" lengthAdjust="spacingAndGlyphs">Payakumbuh</text>
<text x="931.9" y="587.5" font-size="14.66" font-weight="700" fill="#FFFF00" textLength="288.4" lengthAdjust="spacingAndGlyphs">PAGU DAN REALISASI DAK FISIK TA 2022</text>
<text x="985.1" y="607.8" font-size="14.66" font-weight="700" fill="#FFFF00" textLength="181.9" lengthAdjust="spacingAndGlyphs">PADA KPPN BUKITTINGGI</text>
<text x="968.3" y="628.3" font-size="14.66" font-weight="700" fill="#FFFF00" textLength="215.5" lengthAdjust="spacingAndGlyphs">(DATA S.D. 28 FEBRUARI 2022)</text>
<rect x="977.4" y="921.8" width="6.7" height="6.6" fill="#00B050"/>
<text x="987.2" y="928.9" font-size="11.59" stroke="#F2F2F2" stroke-width="0.56" fill="#F2F2F2" textLength="32.2" lengthAdjust="spacingAndGlyphs">PAGU</text>
<rect x="1030.6" y="921.8" width="6.5" height="6.6" fill="#FFFFFF"/>
<text x="1040.2" y="928.9" font-size="11.59" stroke="#F2F2F2" stroke-width="0.56" fill="#F2F2F2" textLength="56.0" lengthAdjust="spacingAndGlyphs">REALISASI</text>
<!-- bar 4 -->
<rect x="805.0" y="1592.9" width="32.7" height="245.6" fill="#00B050"/>
<rect x="845.6" y="1779.3" width="32.7" height="59.2" fill="#C0504D"/>
<rect x="902.8" y="1618.9" width="32.4" height="219.6" fill="#00B050"/>
<rect x="943.4" y="1788.0" width="32.4" height="50.5" fill="#C0504D"/>
<rect x="1000.3" y="1663.0" width="32.4" height="175.5" fill="#00B050"/>
<rect x="1040.9" y="1795.2" width="32.2" height="43.3" fill="#C0504D"/>
<rect x="1097.8" y="1757.0" width="32.2" height="81.5" fill="#00B050"/>
<rect x="1138.2" y="1817.2" width="32.6" height="21.3" fill="#C0504D"/>
<rect x="1195.3" y="1800.1" width="32.5" height="38.4" fill="#00B050"/>
<rect x="1235.9" y="1829.8" width="32.5" height="8.7" fill="#C0504D"/>
<rect x="1292.9" y="1740.0" width="32.4" height="98.5" fill="#00B050"/>
<rect x="1333.5" y="1815.2" width="32.6" height="23.3" fill="#C0504D"/>
<line x1="792.6" y1="1838.5" x2="1378.2" y2="1838.5" stroke="#595959" stroke-width="0.9"/>
<text x="706.5" y="1579.8" font-size="10.34" stroke="#F2F2F2" stroke-width="0.50" fill="#F2F2F2" textLength="73.5" lengthAdjust="spacingAndGlyphs">80,000,000,000</text>
<text x="706.5" y="1612.6" font-size="10.34" stroke="#F2F2F2" stroke-width="0.50" fill="#F2F2F2" textLength="73.5" lengthAdjust="spacingAndGlyphs">70,000,000,000</text>
<text x="706.5" y="1645.4" font-size="10.34" stroke="#F2F2F2" stroke-width="0.50" fill="#F2F2F2" textLength="73.5" lengthAdjust="spacingAndGlyphs">60,000,000,000</text>
<text x="706.5" y="1678.2" font-size="10.34" stroke="#F2F2F2" stroke-width="0.50" fill="#F2F2F2" textLength="73.5" lengthAdjust="spacingAndGlyphs">50,000,000,000</text>
<text x="706.5" y="1711.0" font-size="10.34" stroke="#F2F2F2" stroke-width="0.50" fill="#F2F2F2" textLength="73.5" lengthAdjust="spacingAndGlyphs">40,000,000,000</text>
<text x="706.5" y="1743.8" font-size="10.34" stroke="#F2F2F2" stroke-width="0.50" fill="#F2F2F2" textLength="73.5" lengthAdjust="spacingAndGlyphs">30,000,000,000</text>
<text x="706.5" y="1776.6" font-size="10.34" stroke="#F2F2F2" stroke-width="0.50" fill="#F2F2F2" textLength="73.5" lengthAdjust="spacingAndGlyphs">20,000,000,000</text>
<text x="706.5" y="1809.4" font-size="10.34" stroke="#F2F2F2" stroke-width="0.50" fill="#F2F2F2" textLength="73.5" lengthAdjust="spacingAndGlyphs">10,000,000,000</text>
<text x="774.3" y="1841.3" font-size="9.5" font-weight="700" fill="#D9D9D9">-</text>
<text x="811.7" y="1859.0" font-size="12.01" stroke="#F2F2F2" stroke-width="0.58" fill="#F2F2F2" textLength="59.4" lengthAdjust="spacingAndGlyphs">Kab. Agam</text>
<text x="904.8" y="1859.0" font-size="12.01" stroke="#F2F2F2" stroke-width="0.58" fill="#F2F2F2" textLength="68.4" lengthAdjust="spacingAndGlyphs">Kab. 50 Kota</text>
<text x="989.8" y="1859.0" font-size="12.01" stroke="#F2F2F2" stroke-width="0.58" fill="#F2F2F2" textLength="93.6" lengthAdjust="spacingAndGlyphs">Kab. Tanah Datar</text>
<text x="1089.7" y="1859.0" font-size="12.01" stroke="#F2F2F2" stroke-width="0.58" fill="#F2F2F2" textLength="89.0" lengthAdjust="spacingAndGlyphs">Kota Bukittinggi</text>
<text x="1196.9" y="1859.0" font-size="12.01" stroke="#F2F2F2" stroke-width="0.58" fill="#F2F2F2" textLength="69.8" lengthAdjust="spacingAndGlyphs">Kota Padang</text>
<text x="1209.3" y="1874.5" font-size="12.01" stroke="#F2F2F2" stroke-width="0.58" fill="#F2F2F2" textLength="45.0" lengthAdjust="spacingAndGlyphs">Panjang</text>
<text x="1316.8" y="1859.0" font-size="12.01" stroke="#F2F2F2" stroke-width="0.58" fill="#F2F2F2" textLength="25.2" lengthAdjust="spacingAndGlyphs">Kota</text>
<text x="1293.3" y="1874.5" font-size="12.01" stroke="#F2F2F2" stroke-width="0.58" fill="#F2F2F2" textLength="72.2" lengthAdjust="spacingAndGlyphs">Payakumbuh</text>
<text x="859.7" y="1557.8" font-size="14.66" font-weight="700" fill="#FFFF00" textLength="417.1" lengthAdjust="spacingAndGlyphs">PAGU DAN REALISASI DAK NON FISIK (DANA BOS) TA 2022</text>
<text x="977.3" y="1578.1" font-size="14.66" font-weight="700" fill="#FFFF00" textLength="181.9" lengthAdjust="spacingAndGlyphs">PADA KPPN BUKITTINGGI</text>
<text x="960.5" y="1598.6" font-size="14.66" font-weight="700" fill="#FFFF00" textLength="215.5" lengthAdjust="spacingAndGlyphs">(DATA S.D. 28 FEBRUARI 2022)</text>
<rect x="983.8" y="1890.4" width="6.7" height="6.6" fill="#00B050"/>
<text x="993.6" y="1897.5" font-size="11.59" stroke="#F2F2F2" stroke-width="0.56" fill="#F2F2F2" textLength="32.2" lengthAdjust="spacingAndGlyphs">PAGU</text>
<rect x="1037.0" y="1890.4" width="6.5" height="6.6" fill="#C0504D"/>
<text x="1046.6" y="1897.5" font-size="11.59" stroke="#F2F2F2" stroke-width="0.56" fill="#F2F2F2" textLength="56.0" lengthAdjust="spacingAndGlyphs">REALISASI</text>
<!-- bar 3 -->
<rect x="809.1" y="1119.8" width="64.6" height="250.5" fill="#00B050"/>
<rect x="890.3" y="1308.4" width="64.9" height="61.9" fill="#FFFFFF"/>
<rect x="1003.7" y="1154.0" width="65.3" height="216.3" fill="#00B050"/>
<rect x="1085.1" y="1343.8" width="64.9" height="26.5" fill="#FFFFFF"/>
<rect x="1198.5" y="1121.1" width="65.1" height="249.2" fill="#00B050"/>
<line x1="784.6" y1="1370.3" x2="1368.5" y2="1370.3" stroke="#595959" stroke-width="0.9"/>
<text x="698.5" y="1107.0" font-size="9.78" stroke="#F2F2F2" stroke-width="0.47" fill="#F2F2F2" textLength="73.5" lengthAdjust="spacingAndGlyphs">80,000,000,000</text>
<text x="698.5" y="1140.4" font-size="9.78" stroke="#F2F2F2" stroke-width="0.47" fill="#F2F2F2" textLength="73.5" lengthAdjust="spacingAndGlyphs">70,000,000,000</text>
<text x="698.5" y="1173.8" font-size="9.78" stroke="#F2F2F2" stroke-width="0.47" fill="#F2F2F2" textLength="73.5" lengthAdjust="spacingAndGlyphs">60,000,000,000</text>
<text x="698.5" y="1207.2" font-size="9.78" stroke="#F2F2F2" stroke-width="0.47" fill="#F2F2F2" textLength="73.5" lengthAdjust="spacingAndGlyphs">50,000,000,000</text>
<text x="698.5" y="1240.6" font-size="9.78" stroke="#F2F2F2" stroke-width="0.47" fill="#F2F2F2" textLength="73.5" lengthAdjust="spacingAndGlyphs">40,000,000,000</text>
<text x="698.5" y="1274.0" font-size="9.78" stroke="#F2F2F2" stroke-width="0.47" fill="#F2F2F2" textLength="73.5" lengthAdjust="spacingAndGlyphs">30,000,000,000</text>
<text x="698.5" y="1307.4" font-size="9.78" stroke="#F2F2F2" stroke-width="0.47" fill="#F2F2F2" textLength="73.5" lengthAdjust="spacingAndGlyphs">20,000,000,000</text>
<text x="698.5" y="1340.8" font-size="9.78" stroke="#F2F2F2" stroke-width="0.47" fill="#F2F2F2" textLength="73.5" lengthAdjust="spacingAndGlyphs">10,000,000,000</text>
<text x="766.3" y="1373.2" font-size="9.5" font-weight="700" fill="#D9D9D9">-</text>
<text x="849.4" y="1392.9" font-size="12.15" stroke="#F2F2F2" stroke-width="0.58" fill="#F2F2F2" textLength="65.5" lengthAdjust="spacingAndGlyphs">Kab. Agam</text>
<text x="1012.7" y="1392.9" font-size="12.15" stroke="#F2F2F2" stroke-width="0.58" fill="#F2F2F2" textLength="128.2" lengthAdjust="spacingAndGlyphs">Kab. Lima Puluh Kota</text>
<text x="1219.9" y="1392.9" font-size="12.15" stroke="#F2F2F2" stroke-width="0.58" fill="#F2F2F2" textLength="103.4" lengthAdjust="spacingAndGlyphs">Kab. Tanah Datar</text>
<text x="881.4" y="1074.8" font-size="14.66" font-weight="700" fill="#FFFF00" textLength="304.8" lengthAdjust="spacingAndGlyphs">PAGU DAN REALISASI DANA DESA TA 2022</text>
<text x="942.3" y="1095.1" font-size="14.66" font-weight="700" fill="#FFFF00" textLength="182.5" lengthAdjust="spacingAndGlyphs">PADA KPPN BUKITTINGGI</text>
<text x="926.0" y="1115.4" font-size="14.66" font-weight="700" fill="#FFFF00" textLength="215.6" lengthAdjust="spacingAndGlyphs">(DATA S.D. 28 FEBRUARI 2022)</text>
<rect x="976.4" y="1407.7" width="6.7" height="6.7" fill="#00B050"/>
<text x="986.2" y="1414.9" font-size="11.59" stroke="#F2F2F2" stroke-width="0.56" fill="#F2F2F2" textLength="32.2" lengthAdjust="spacingAndGlyphs">PAGU</text>
<rect x="1029.6" y="1407.7" width="6.6" height="6.7" fill="#FFFFFF"/>
<text x="1039.2" y="1414.9" font-size="11.59" stroke="#F2F2F2" stroke-width="0.56" fill="#F2F2F2" textLength="55.9" lengthAdjust="spacingAndGlyphs">REALISASI</text>
</svg>
</body>
</html>
